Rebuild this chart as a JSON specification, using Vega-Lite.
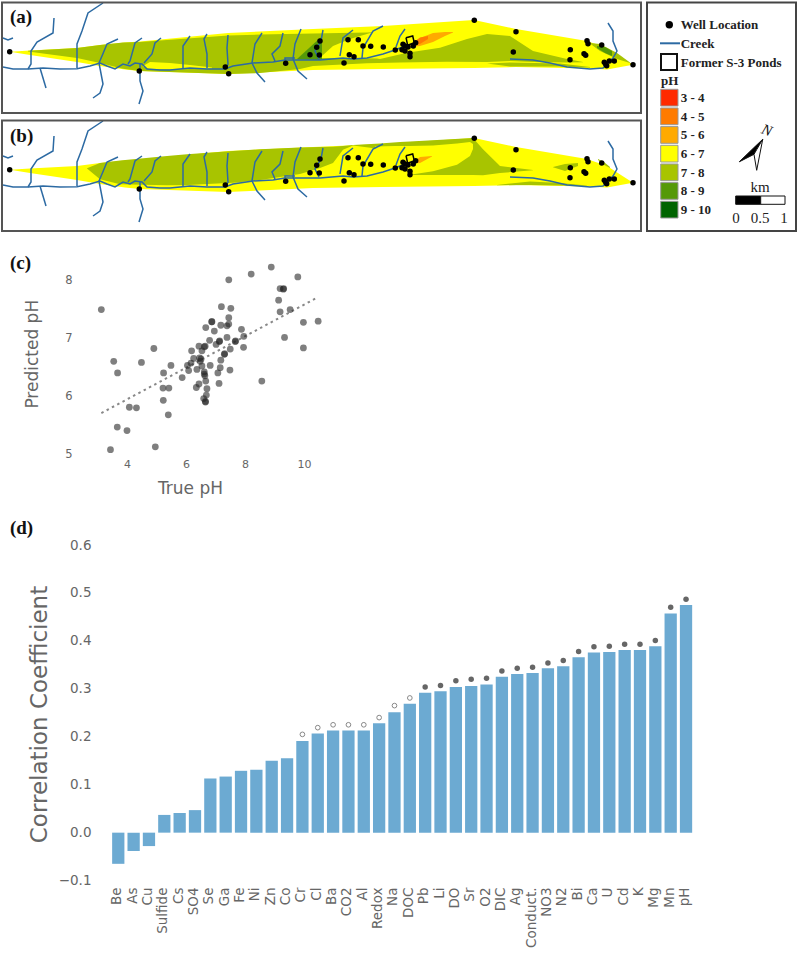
{
"$schema":"https://vega.github.io/schema/vega-lite/v6.json",
"width":800,"height":953,"padding":0,
"autosize":{"type":"fit","contains":"padding"},
"background":"white",
"config":{"view":{"stroke":null},"axis":{"grid":false,"domain":false,"ticks":false,"tickSize":0,"labelFont":"DejaVu Sans","titleFont":"DejaVu Sans","labelColor":"#666","titleColor":"#666","titleFontWeight":"normal"}},
"datasets":{
"contour":[
{"p":"ab","id":"O","ph":"6 - 7","x":10,"y":50.7,"y1":50.8},{"p":"ab","id":"O","ph":"6 - 7","x":30,"y":49.5,"y1":54},{"p":"ab","id":"O","ph":"6 - 7","x":77,"y":47,"y1":61},{"p":"ab","id":"O","ph":"6 - 7","x":100,"y":44,"y1":65},{"p":"ab","id":"O","ph":"6 - 7","x":125,"y":41.5,"y1":68.5},{"p":"ab","id":"O","ph":"6 - 7","x":140,"y":40.5,"y1":70},{"p":"ab","id":"O","ph":"6 - 7","x":228,"y":32,"y1":73},{"p":"ab","id":"O","ph":"6 - 7","x":313,"y":28,"y1":69},{"p":"ab","id":"O","ph":"6 - 7","x":383,"y":25,"y1":68},{"p":"ab","id":"O","ph":"6 - 7","x":474,"y":19,"y1":67},{"p":"ab","id":"O","ph":"6 - 7","x":516,"y":28,"y1":66},{"p":"ab","id":"O","ph":"6 - 7","x":587,"y":40,"y1":67.5},{"p":"ab","id":"O","ph":"6 - 7","x":607,"y":47,"y1":68.5},{"p":"ab","id":"O","ph":"6 - 7","x":633,"y":63.7,"y1":63.8},
{"p":"a","id":"G1","ph":"7 - 8","x":28,"y":49.7,"y1":50.5},{"p":"a","id":"G1","ph":"7 - 8","x":77,"y":47,"y1":57},{"p":"a","id":"G1","ph":"7 - 8","x":100,"y":44,"y1":62},{"p":"a","id":"G1","ph":"7 - 8","x":123,"y":41.6,"y1":67.7},{"p":"a","id":"G1","ph":"7 - 8","x":140,"y":41,"y1":70},{"p":"a","id":"G1","ph":"7 - 8","x":228,"y":34.5,"y1":73},{"p":"a","id":"G1","ph":"7 - 8","x":260,"y":33.5,"y1":72},{"p":"a","id":"G1","ph":"7 - 8","x":300,"y":32.7,"y1":68},{"p":"a","id":"G1","ph":"7 - 8","x":313,"y":32.5,"y1":65},{"p":"a","id":"G1","ph":"7 - 8","x":367,"y":31.5,"y1":62.3},{"p":"a","id":"G1","ph":"7 - 8","x":400,"y":30,"y1":61.5},{"p":"a","id":"G1","ph":"7 - 8","x":447,"y":29,"y1":60.7},{"p":"a","id":"G1","ph":"7 - 8","x":487,"y":33,"y1":61},{"p":"a","id":"G1","ph":"7 - 8","x":510,"y":35,"y1":60},{"p":"a","id":"G1","ph":"7 - 8","x":533,"y":50,"y1":61},{"p":"a","id":"G1","ph":"7 - 8","x":567,"y":58,"y1":61.5},{"p":"a","id":"G1","ph":"7 - 8","x":583,"y":61,"y1":61.2},
{"p":"a","id":"Y1","ph":"6 - 7","x":143,"y":65,"y1":65.5},{"p":"a","id":"Y1","ph":"6 - 7","x":150,"y":61,"y1":68},{"p":"a","id":"Y1","ph":"6 - 7","x":170,"y":62,"y1":68.5},{"p":"a","id":"Y1","ph":"6 - 7","x":190,"y":64,"y1":68},{"p":"a","id":"Y1","ph":"6 - 7","x":212,"y":66.5,"y1":67.5},
{"p":"a","id":"Y2","ph":"6 - 7","x":320,"y":56.7,"y1":57},{"p":"a","id":"Y2","ph":"6 - 7","x":333,"y":45,"y1":57},{"p":"a","id":"Y2","ph":"6 - 7","x":350,"y":38,"y1":57},{"p":"a","id":"Y2","ph":"6 - 7","x":377,"y":30,"y1":57.5},{"p":"a","id":"Y2","ph":"6 - 7","x":380,"y":30,"y1":58},{"p":"a","id":"Y2","ph":"6 - 7","x":407,"y":27,"y1":51.7},{"p":"a","id":"Y2","ph":"6 - 7","x":440,"y":24,"y1":46.7},{"p":"a","id":"Y2","ph":"6 - 7","x":467,"y":22,"y1":38},{"p":"a","id":"Y2","ph":"6 - 7","x":487,"y":22,"y1":33},
{"p":"a","id":"G3","ph":"7 - 8","x":487,"y":62.5,"y1":62.6},{"p":"a","id":"G3","ph":"7 - 8","x":510,"y":61.5,"y1":65.5},{"p":"a","id":"G3","ph":"7 - 8","x":560,"y":62.5,"y1":65.5},{"p":"a","id":"G3","ph":"7 - 8","x":590,"y":66,"y1":66.5},
{"p":"a","id":"D1","ph":"8 - 9","x":297,"y":58,"y1":58.2},{"p":"a","id":"D1","ph":"8 - 9","x":320,"y":37,"y1":59},{"p":"a","id":"D1","ph":"8 - 9","x":322,"y":36,"y1":58},
{"p":"a","id":"E1","ph":"7 - 8","x":590,"y":42,"y1":42.5},{"p":"a","id":"E1","ph":"7 - 8","x":600,"y":43,"y1":50},{"p":"a","id":"E1","ph":"7 - 8","x":617,"y":52,"y1":58},{"p":"a","id":"E1","ph":"7 - 8","x":630,"y":61.5,"y1":62},
{"p":"a","id":"E2","ph":"8 - 9","x":597,"y":45,"y1":47},{"p":"a","id":"E2","ph":"8 - 9","x":605,"y":46,"y1":52},{"p":"a","id":"E2","ph":"8 - 9","x":612,"y":50,"y1":55},
{"p":"a","id":"R1","ph":"5 - 6","x":405,"y":46,"y1":46.5},{"p":"a","id":"R1","ph":"5 - 6","x":420,"y":37,"y1":45},{"p":"a","id":"R1","ph":"5 - 6","x":433,"y":32,"y1":41},{"p":"a","id":"R1","ph":"5 - 6","x":445,"y":31,"y1":35},{"p":"a","id":"R1","ph":"5 - 6","x":453,"y":31,"y1":31.5},
{"p":"a","id":"R2","ph":"4 - 5","x":412,"y":43,"y1":43.5},{"p":"a","id":"R2","ph":"4 - 5","x":420,"y":36.5,"y1":43},{"p":"a","id":"R2","ph":"4 - 5","x":428,"y":35,"y1":38},
{"p":"b","id":"B1","ph":"7 - 8","x":87,"y":49.3,"y1":49.5},{"p":"b","id":"B1","ph":"7 - 8","x":100,"y":44,"y1":60.3},{"p":"b","id":"B1","ph":"7 - 8","x":120,"y":41.5,"y1":65.3},{"p":"b","id":"B1","ph":"7 - 8","x":167,"y":37,"y1":66.3},{"p":"b","id":"B1","ph":"7 - 8","x":187,"y":35.3,"y1":66},{"p":"b","id":"B1","ph":"7 - 8","x":233,"y":32,"y1":63.7},{"p":"b","id":"B1","ph":"7 - 8","x":260,"y":30.3,"y1":61},{"p":"b","id":"B1","ph":"7 - 8","x":300,"y":28.5,"y1":55},{"p":"b","id":"B1","ph":"7 - 8","x":320,"y":28,"y1":49},{"p":"b","id":"B1","ph":"7 - 8","x":333,"y":27.7,"y1":44},{"p":"b","id":"B1","ph":"7 - 8","x":343,"y":27,"y1":30.7},{"p":"b","id":"B1","ph":"7 - 8","x":353,"y":26,"y1":26.5},
{"p":"b","id":"B2","ph":"7 - 8","x":353,"y":26,"y1":26.5},{"p":"b","id":"B2","ph":"7 - 8","x":380,"y":24.5,"y1":30},{"p":"b","id":"B2","ph":"7 - 8","x":400,"y":23,"y1":44},{"p":"b","id":"B2","ph":"7 - 8","x":410,"y":22.4,"y1":56},{"p":"b","id":"B2","ph":"7 - 8","x":473,"y":18.9,"y1":56},{"p":"b","id":"B2","ph":"7 - 8","x":483,"y":30.3,"y1":56.3},{"p":"b","id":"B2","ph":"7 - 8","x":500,"y":47,"y1":54},{"p":"b","id":"B2","ph":"7 - 8","x":533,"y":51,"y1":51.2},
{"p":"b","id":"B3","ph":"6 - 7","x":375,"y":27.5,"y1":28.5},{"p":"b","id":"B3","ph":"6 - 7","x":395,"y":27,"y1":46},{"p":"b","id":"B3","ph":"6 - 7","x":410,"y":27,"y1":55.7},{"p":"b","id":"B3","ph":"6 - 7","x":433,"y":26.5,"y1":52.3},{"p":"b","id":"B3","ph":"6 - 7","x":457,"y":24.5,"y1":45.7},{"p":"b","id":"B3","ph":"6 - 7","x":470,"y":23,"y1":37},{"p":"b","id":"B3","ph":"6 - 7","x":473,"y":25,"y1":30},
{"p":"b","id":"B4","ph":"5 - 6","x":412,"y":44,"y1":44.5},{"p":"b","id":"B4","ph":"5 - 6","x":420,"y":38,"y1":44},{"p":"b","id":"B4","ph":"5 - 6","x":432,"y":37,"y1":37.5},
{"p":"b","id":"B5","ph":"7 - 8","x":553,"y":48,"y1":48.3},{"p":"b","id":"B5","ph":"7 - 8","x":565,"y":45,"y1":52},{"p":"b","id":"B5","ph":"7 - 8","x":578,"y":44,"y1":47},
{"p":"b","id":"B6","ph":"7 - 8","x":497,"y":66,"y1":66.2},{"p":"b","id":"B6","ph":"7 - 8","x":530,"y":62.5,"y1":66},{"p":"b","id":"B6","ph":"7 - 8","x":560,"y":64,"y1":66.5},{"p":"b","id":"B6","ph":"7 - 8","x":587,"y":66.5,"y1":66.7},
{"p":"b","id":"B7","ph":"7 - 8","x":598,"y":40,"y1":41},{"p":"b","id":"B7","ph":"7 - 8","x":604,"y":43,"y1":46},{"p":"b","id":"B7","ph":"7 - 8","x":610,"y":48,"y1":49}
],
"creek":[
{"c":"m","x":3,"y":66},{"c":"m","x":13,"y":68},{"c":"m","x":28,"y":68},{"c":"m","x":43,"y":67},{"c":"m","x":60,"y":68},{"c":"m","x":77,"y":67.7},{"c":"m","x":90,"y":65},{"c":"m","x":100,"y":62},{"c":"m","x":107,"y":65},{"c":"m","x":115,"y":68},{"c":"m","x":123,"y":63},{"c":"m","x":130,"y":65},{"c":"m","x":135,"y":62},{"c":"m","x":142,"y":63},{"c":"m","x":147,"y":68},{"c":"m","x":160,"y":69},{"c":"m","x":170,"y":69},{"c":"m","x":180,"y":68},{"c":"m","x":190,"y":67},{"c":"m","x":207,"y":68},{"c":"m","x":225,"y":68},{"c":"m","x":233,"y":65},{"c":"m","x":253,"y":62},{"c":"m","x":273,"y":61},{"c":"m","x":285,"y":59},{"c":"m","x":300,"y":59},{"c":"m","x":320,"y":59},{"c":"m","x":343,"y":57},{"c":"m","x":353,"y":58},{"c":"m","x":367,"y":57},{"c":"m","x":383,"y":53},{"c":"m","x":395,"y":49},{"c":"m","x":405,"y":45},
{"c":"t1","x":3,"y":37},{"c":"t1","x":8,"y":39},{"c":"t1","x":13,"y":37},
{"c":"t2","x":54,"y":17},{"c":"t2","x":53,"y":32},{"c":"t2","x":37,"y":41},{"c":"t2","x":31,"y":50},{"c":"t2","x":31,"y":63},{"c":"t2","x":28,"y":68},
{"c":"t3","x":103,"y":2},{"c":"t3","x":88,"y":12},{"c":"t3","x":82,"y":30},{"c":"t3","x":77,"y":43},{"c":"t3","x":77,"y":67},
{"c":"t4","x":40,"y":67},{"c":"t4","x":43,"y":77},{"c":"t4","x":46,"y":87},
{"c":"t5","x":118,"y":38},{"c":"t5","x":107,"y":43},{"c":"t5","x":102,"y":55},{"c":"t5","x":99,"y":62},{"c":"t5","x":103,"y":83},{"c":"t5","x":100,"y":92},{"c":"t5","x":93,"y":97},
{"c":"t6","x":142,"y":37},{"c":"t6","x":135,"y":42},{"c":"t6","x":130,"y":60},{"c":"t6","x":128,"y":63},
{"c":"t7","x":161,"y":37},{"c":"t7","x":155,"y":42},{"c":"t7","x":152,"y":53},{"c":"t7","x":144,"y":62},
{"c":"t8","x":140,"y":63},{"c":"t8","x":140,"y":80},{"c":"t8","x":143,"y":90},{"c":"t8","x":139,"y":103},
{"c":"t9","x":190,"y":35},{"c":"t9","x":183,"y":45},{"c":"t9","x":183,"y":68},
{"c":"t10","x":207,"y":33},{"c":"t10","x":204,"y":38},{"c":"t10","x":207,"y":53},{"c":"t10","x":207,"y":67},
{"c":"t11","x":228,"y":34},{"c":"t11","x":227,"y":47},{"c":"t11","x":228,"y":63},{"c":"t11","x":226,"y":67},
{"c":"t12","x":262,"y":32},{"c":"t12","x":255,"y":43},{"c":"t12","x":252,"y":62},{"c":"t12","x":257,"y":72},{"c":"t12","x":265,"y":81},
{"c":"t13","x":283,"y":32},{"c":"t13","x":280,"y":45},{"c":"t13","x":272,"y":53},{"c":"t13","x":275,"y":60},
{"c":"t14","x":301,"y":28},{"c":"t14","x":295,"y":43},{"c":"t14","x":293,"y":58},{"c":"t14","x":298,"y":70},{"c":"t14","x":307,"y":78},
{"c":"t15","x":323,"y":29},{"c":"t15","x":321,"y":40},{"c":"t15","x":315,"y":50},{"c":"t15","x":319,"y":58},
{"c":"t16","x":285,"y":59},{"c":"t16","x":285,"y":57},{"c":"t16","x":295,"y":57},
{"c":"t17","x":353,"y":29},{"c":"t17","x":343,"y":37},{"c":"t17","x":340,"y":55},
{"c":"t18","x":383,"y":25},{"c":"t18","x":373,"y":30},{"c":"t18","x":363,"y":47},{"c":"t18","x":362,"y":57},
{"c":"t19","x":405,"y":28},{"c":"t19","x":400,"y":35},{"c":"t19","x":396,"y":46},
{"c":"e","x":510,"y":58},{"c":"e","x":533,"y":59},{"c":"e","x":550,"y":62},{"c":"e","x":567,"y":66},{"c":"e","x":590,"y":68},{"c":"e","x":603,"y":67},{"c":"e","x":613,"y":57},{"c":"e","x":617,"y":50},{"c":"e","x":613,"y":40},{"c":"e","x":613,"y":30},{"c":"e","x":608,"y":22}
],
"wells":[
{"x":9.7,"y":50.7},{"x":139.3,"y":70},{"x":225.3,"y":66},{"x":228.7,"y":72.7},{"x":285.7,"y":62.3},{"x":320,"y":40},{"x":316.7,"y":46.3},{"x":310,"y":53.7},{"x":319.3,"y":54},{"x":344,"y":62},{"x":348,"y":38.7},{"x":358.3,"y":38.7},{"x":349.3,"y":53.7},{"x":354,"y":55.7},{"x":363,"y":45},{"x":370.7,"y":45.3},{"x":383.3,"y":46},{"x":395.3,"y":49},{"x":474.3,"y":19.3},{"x":516,"y":30.7},{"x":513.3,"y":51},{"x":570.3,"y":48.7},{"x":570,"y":58.7},{"x":587,"y":39.7},{"x":588,"y":42.7},{"x":584,"y":52.7},{"x":585.7,"y":54.3},{"x":601.7,"y":44},{"x":633,"y":63.7},{"x":614.3,"y":60},{"x":609.3,"y":60},{"x":604.3,"y":61.3},{"x":606.7,"y":64.7},{"x":605.7,"y":63.3},{"x":403,"y":43.3},{"x":405,"y":45},{"x":408,"y":46},{"x":405,"y":50},{"x":402,"y":48.7},{"x":413.3,"y":45},{"x":415.7,"y":41.7},{"x":410,"y":52.3},{"x":410,"y":55.7}
],
"pond":[{"x":406,"y":36.7},{"x":412.7,"y":35},{"x":414.3,"y":41.7},{"x":407.7,"y":44.3},{"x":406,"y":36.7}],
"frame":[{"x":2,"x1":641,"y":1.5,"y1":112}],
"scatter":[
{"x":3.13,"y":7.5},{"x":3.55,"y":6.61},{"x":3.68,"y":6.41},{"x":4.08,"y":5.82},{"x":4.32,"y":5.81},{"x":3.67,"y":5.48},{"x":4.0,"y":5.42},{"x":3.44,"y":5.09},{"x":4.96,"y":5.14},{"x":4.49,"y":6.59},{"x":4.91,"y":6.83},{"x":5.24,"y":6.41},{"x":5.49,"y":6.54},{"x":5.22,"y":6.15},{"x":5.42,"y":6.15},{"x":5.23,"y":5.94},{"x":5.4,"y":5.69},{"x":5.87,"y":6.33},{"x":6.05,"y":6.54},{"x":6.09,"y":6.45},{"x":6.17,"y":6.58},{"x":6.19,"y":6.79},{"x":6.26,"y":6.66},{"x":6.44,"y":6.87},{"x":6.37,"y":6.47},{"x":6.35,"y":6.16},{"x":6.44,"y":6.22},{"x":6.46,"y":6.67},{"x":6.51,"y":6.65},{"x":6.48,"y":6.61},{"x":6.54,"y":6.53},{"x":6.62,"y":6.86},{"x":6.65,"y":6.87},{"x":6.67,"y":7.19},{"x":6.54,"y":6.79},{"x":6.62,"y":6.43},{"x":6.62,"y":6.39},{"x":6.64,"y":6.36},{"x":6.67,"y":6.27},{"x":6.71,"y":6.14},{"x":6.69,"y":6.03},{"x":6.6,"y":5.97},{"x":6.66,"y":5.91},{"x":6.66,"y":5.92},{"x":6.82,"y":6.54},{"x":6.8,"y":6.97},{"x":6.87,"y":7.29},{"x":6.88,"y":7.29},{"x":6.96,"y":7.13},{"x":7.02,"y":6.9},{"x":7.13,"y":6.95},{"x":7.14,"y":6.96},{"x":7.08,"y":6.41},{"x":7.12,"y":6.23},{"x":7.16,"y":6.5},{"x":7.18,"y":6.63},{"x":7.3,"y":6.73},{"x":7.31,"y":6.74},{"x":7.18,"y":7.23},{"x":7.2,"y":7.55},{"x":7.39,"y":7.22},{"x":7.45,"y":7.25},{"x":7.45,"y":7.36},{"x":7.52,"y":7.52},{"x":7.45,"y":8.01},{"x":7.39,"y":7.02},{"x":7.5,"y":6.82},{"x":7.49,"y":6.46},{"x":7.67,"y":6.95},{"x":7.68,"y":6.96},{"x":7.88,"y":7.16},{"x":7.96,"y":7.04},{"x":7.95,"y":6.85},{"x":8.21,"y":8.11},{"x":8.57,"y":6.27},{"x":8.89,"y":8.23},{"x":9.19,"y":7.86},{"x":9.3,"y":7.85},{"x":9.31,"y":7.86},{"x":9.14,"y":7.66},{"x":9.19,"y":7.46},{"x":9.53,"y":7.5},{"x":9.34,"y":7.02},{"x":9.79,"y":8.06},{"x":9.98,"y":7.28},{"x":9.98,"y":6.84},{"x":10.48,"y":7.3}
],
"fit":[{"x":3.13,"y":5.72},{"x":10.43,"y":7.7}],
"bars":[
{"el":"Be","v":-0.065},{"el":"As","v":-0.038},{"el":"Cu","v":-0.028},{"el":"Sulfide","v":0.037},{"el":"Cs","v":0.041},{"el":"SO4","v":0.047},{"el":"Se","v":0.113},{"el":"Ga","v":0.117},{"el":"Fe","v":0.129},{"el":"Ni","v":0.131},{"el":"Zn","v":0.15},{"el":"Co","v":0.155},{"el":"Cr","v":0.191},{"el":"Cl","v":0.207},{"el":"Ba","v":0.213},{"el":"CO2","v":0.213},{"el":"Al","v":0.213},{"el":"Redox","v":0.228},{"el":"Na","v":0.251},{"el":"DOC","v":0.269},{"el":"Pb","v":0.292},{"el":"Li","v":0.295},{"el":"DO","v":0.304},{"el":"Sr","v":0.306},{"el":"O2","v":0.309},{"el":"DIC","v":0.325},{"el":"Ag","v":0.331},{"el":"Conduct.","v":0.333},{"el":"NO3","v":0.343},{"el":"N2","v":0.347},{"el":"Bi","v":0.366},{"el":"Ca","v":0.376},{"el":"U","v":0.377},{"el":"Cd","v":0.381},{"el":"K","v":0.381},{"el":"Mg","v":0.389},{"el":"Mn","v":0.457},{"el":"pH","v":0.475}
],
"sig":[
{"el":"Cr","v":0.205,"k":"open"},{"el":"Cl","v":0.219,"k":"open"},{"el":"Ba","v":0.225,"k":"open"},{"el":"CO2","v":0.225,"k":"open"},{"el":"Al","v":0.225,"k":"open"},{"el":"Redox","v":0.24,"k":"open"},{"el":"Na","v":0.265,"k":"open"},{"el":"DOC","v":0.281,"k":"open"},{"el":"Pb","v":0.304,"k":"solid"},{"el":"Li","v":0.307,"k":"solid"},{"el":"DO","v":0.317,"k":"solid"},{"el":"Sr","v":0.32,"k":"solid"},{"el":"O2","v":0.322,"k":"solid"},{"el":"DIC","v":0.337,"k":"solid"},{"el":"Ag","v":0.343,"k":"solid"},{"el":"Conduct.","v":0.345,"k":"solid"},{"el":"NO3","v":0.354,"k":"solid"},{"el":"N2","v":0.359,"k":"solid"},{"el":"Bi","v":0.378,"k":"solid"},{"el":"Ca","v":0.388,"k":"solid"},{"el":"U","v":0.389,"k":"solid"},{"el":"Cd","v":0.393,"k":"solid"},{"el":"K","v":0.393,"k":"solid"},{"el":"Mg","v":0.401,"k":"solid"},{"el":"Mn","v":0.47,"k":"solid"},{"el":"pH","v":0.487,"k":"solid"}
],
"swatch":[{"ph":"3 - 4","x":660.7,"x1":678,"y":88.3,"y1":105},{"ph":"4 - 5","x":660.7,"x1":678,"y":107,"y1":123.7},{"ph":"5 - 6","x":660.7,"x1":678,"y":125.6,"y1":142.3},{"ph":"6 - 7","x":660.7,"x1":678,"y":144.3,"y1":161},{"ph":"7 - 8","x":660.7,"x1":678,"y":163,"y1":179.7},{"ph":"8 - 9","x":660.7,"x1":678,"y":181.6,"y1":198.3},{"ph":"9 - 10","x":660.7,"x1":678,"y":200.3,"y1":217}],
"legendBold":[{"t":"Well Location","x":680.7,"y":24},{"t":"Creek","x":680.7,"y":43},{"t":"Former S-3 Ponds","x":680.7,"y":61.5},{"t":"pH","x":661,"y":80},{"t":"3 - 4","x":680.7,"y":97},{"t":"4 - 5","x":680.7,"y":115.7},{"t":"5 - 6","x":680.7,"y":134.3},{"t":"6 - 7","x":680.7,"y":153},{"t":"7 - 8","x":680.7,"y":171.7},{"t":"8 - 9","x":680.7,"y":190.3},{"t":"9 - 10","x":680.7,"y":209}],
"scaleText":[{"t":"km","x":760,"y":186},{"t":"0","x":736,"y":217},{"t":"0.5","x":760,"y":217},{"t":"1","x":784,"y":217}],
"shade":[{"s":"dark","x":735.7,"x1":760.7,"y":195,"y1":203.3},{"s":"light","x":760.7,"x1":785,"y":195,"y1":203.3}],
"north":[{"s":"dark","x":739.3,"y":160.7,"y1":160.8},{"s":"dark","x":754,"y":146.6,"y1":153.3},{"s":"dark","x":762.7,"y":138.3,"y1":138.4},{"s":"light","x":754,"y":153.3,"y1":153.4},{"s":"light","x":756.7,"y":148.6,"y1":169.3},{"s":"light","x":762.7,"y":138.3,"y1":138.4}]
},
"resolve":{"scale":{"x":"independent","y":"independent"},"axis":{"x":"independent","y":"independent"}},
"layer":[
{"encoding":{"x":{"field":"x","type":"quantitative","axis":null,"scale":{"domain":[0,640],"range":[0,640]}},"y":{"field":"y","type":"quantitative","axis":null,"scale":{"domain":[0,113],"range":[0,113]}}},
"layer":[
{"data":{"name":"contour"},"transform":[{"filter":"datum.p=='ab'||datum.p=='a'"}],"mark":{"type":"area","strokeWidth":0},"encoding":{"y2":{"field":"y1"},"color":{"field":"ph","type":"nominal","legend":null,"scale":{"domain":["3 - 4","4 - 5","5 - 6","6 - 7","7 - 8","8 - 9","9 - 10"],"range":["#FF2A00","#FF7B00","#FFAA00","#FFFF00","#A8C400","#559908","#006400"]}},"detail":{"field":"id"}}},
{"data":{"name":"creek"},"mark":{"type":"line","stroke":"#2C6AA3","strokeWidth":1.5},"encoding":{"detail":{"field":"c"},"order":{"value":null}}},
{"data":{"name":"pond"},"mark":{"type":"line","stroke":"black","strokeWidth":1.5},"encoding":{"order":{"value":null}}},
{"data":{"name":"wells"},"mark":{"type":"circle","color":"black","opacity":1,"size":30}},
{"data":{"name":"frame"},"mark":{"type":"rect","fill":"transparent","stroke":"#555","strokeWidth":2},"encoding":{"x2":{"field":"x1"},"y2":{"field":"y1"}}},
{"data":{"values":[{"t":"(a)","x":10,"y":16}]},"mark":{"type":"text","align":"left","baseline":"middle","font":"Liberation Serif","fontWeight":"bold","fontSize":19,"color":"#111"},"encoding":{"text":{"field":"t"}}}
]},
{"encoding":{"x":{"field":"x","type":"quantitative","axis":null,"scale":{"domain":[0,640],"range":[0,640]}},"y":{"field":"y","type":"quantitative","axis":null,"scale":{"domain":[0,113],"range":[118,231]}}},
"layer":[
{"data":{"name":"contour"},"transform":[{"filter":"datum.p=='ab'||datum.p=='b'"}],"mark":{"type":"area","strokeWidth":0},"encoding":{"y2":{"field":"y1"},"color":{"field":"ph","type":"nominal","legend":null,"scale":{"domain":["3 - 4","4 - 5","5 - 6","6 - 7","7 - 8","8 - 9","9 - 10"],"range":["#FF2A00","#FF7B00","#FFAA00","#FFFF00","#A8C400","#559908","#006400"]}},"detail":{"field":"id"}}},
{"data":{"name":"creek"},"mark":{"type":"line","stroke":"#2C6AA3","strokeWidth":1.5},"encoding":{"detail":{"field":"c"},"order":{"value":null}}},
{"data":{"name":"pond"},"mark":{"type":"line","stroke":"black","strokeWidth":1.5},"encoding":{"order":{"value":null}}},
{"data":{"name":"wells"},"mark":{"type":"circle","color":"black","opacity":1,"size":30}},
{"data":{"name":"frame"},"mark":{"type":"rect","fill":"transparent","stroke":"#555","strokeWidth":2},"encoding":{"x2":{"field":"x1"},"y2":{"field":"y1"}}},
{"data":{"values":[{"t":"(b)","x":10,"y":17}]},"mark":{"type":"text","align":"left","baseline":"middle","font":"Liberation Serif","fontWeight":"bold","fontSize":19,"color":"#111"},"encoding":{"text":{"field":"t"}}}
]},
{"encoding":{"x":{"field":"x","type":"quantitative","axis":null,"scale":{"domain":[640,800],"range":[640,800]}},"y":{"field":"y","type":"quantitative","axis":null,"scale":{"domain":[0,240],"range":[0,240]}}},
"layer":[
{"data":{"values":[{"x":647,"x1":796,"y":1.5,"y1":230}]},"mark":{"type":"rect","fill":"transparent","stroke":"#444","strokeWidth":2},"encoding":{"x2":{"field":"x1"},"y2":{"field":"y1"}}},
{"data":{"values":[{"x":669.3,"y":23.7}]},"mark":{"type":"circle","color":"black","opacity":1,"size":55}},
{"data":{"values":[{"x":660,"y":42.3},{"x":680,"y":42.3}]},"mark":{"type":"line","stroke":"#2C6AA3","strokeWidth":2}},
{"data":{"values":[{"x":661,"x1":677,"y":53,"y1":69}]},"mark":{"type":"rect","fill":"white","stroke":"#111","strokeWidth":2},"encoding":{"x2":{"field":"x1"},"y2":{"field":"y1"}}},
{"data":{"name":"swatch"},"mark":{"type":"rect","stroke":"#999","strokeWidth":1},"encoding":{"x2":{"field":"x1"},"y2":{"field":"y1"},"color":{"field":"ph","type":"nominal","legend":null,"scale":{"domain":["3 - 4","4 - 5","5 - 6","6 - 7","7 - 8","8 - 9","9 - 10"],"range":["#FF2A00","#FF7B00","#FFAA00","#FFFF00","#A8C400","#559908","#006400"]}}}},
{"data":{"name":"legendBold"},"mark":{"type":"text","align":"left","baseline":"middle","font":"Liberation Serif","fontWeight":"bold","fontSize":13,"color":"#222"},"encoding":{"text":{"field":"t"}}},
{"data":{"name":"scaleText"},"mark":{"type":"text","align":"center","baseline":"middle","font":"Liberation Serif","fontSize":15,"color":"#222"},"encoding":{"text":{"field":"t"}}},
{"data":{"name":"shade"},"mark":{"type":"rect","stroke":"#111","strokeWidth":1},"encoding":{"x2":{"field":"x1"},"y2":{"field":"y1"},"fill":{"field":"s","type":"nominal","legend":null,"scale":{"domain":["dark","light"],"range":["#000","#fff"]}}}},
{"data":{"name":"north"},"mark":{"type":"area","stroke":"#111","strokeWidth":1},"encoding":{"y2":{"field":"y1"},"fill":{"field":"s","type":"nominal","legend":null,"scale":{"domain":["dark","light"],"range":["#000","#fff"]}}}},
{"data":{"values":[{"t":"N","x":767,"y":129}]},"mark":{"type":"text","align":"center","baseline":"middle","font":"Liberation Serif","fontStyle":"italic","fontSize":15,"angle":20,"color":"#111"},"encoding":{"text":{"field":"t"}}}
]},
{"encoding":{"x":{"field":"x","type":"quantitative","scale":{"domain":[3,10.6],"range":[97.5,321.7]},"axis":{"orient":"bottom","values":[4,6,8,10],"title":"True pH","offset":-498,"labelPadding":3,"labelFontSize":11,"titleFontSize":17,"titleX":190,"titleY":33,"titleBaseline":"middle","labelFlush":false}},"y":{"field":"y","type":"quantitative","scale":{"domain":[4.8,8.3],"range":[465.6,262]},"axis":{"orient":"left","values":[5,6,7,8],"title":"Predicted pH","offset":-75,"labelPadding":3,"labelFontSize":11.5,"titleFontSize":17,"titleX":-43,"titleY":352.7,"titleBaseline":"middle","labelFlush":false}}},
"layer":[
{"data":{"name":"fit"},"mark":{"type":"line","stroke":"#888","strokeWidth":2,"strokeDash":[2.5,3.5]}},
{"data":{"name":"scatter"},"mark":{"type":"circle","color":"#222","opacity":0.58,"size":46}},
{"data":{"values":[{"t":"(c)","x":0.03,"y":8.3},{"t":"(d)","x":0.03,"y":3.75}]},"mark":{"type":"text","align":"left","baseline":"middle","font":"Liberation Serif","fontWeight":"bold","fontSize":19,"color":"#111"},"encoding":{"text":{"field":"t"}}}
]},
{"encoding":{"x":{"field":"el","type":"nominal","scale":{"domain":["Be","As","Cu","Sulfide","Cs","SO4","Se","Ga","Fe","Ni","Zn","Co","Cr","Cl","Ba","CO2","Al","Redox","Na","DOC","Pb","Li","DO","Sr","O2","DIC","Ag","Conduct.","NO3","N2","Bi","Ca","U","Cd","K","Mg","Mn","pH"],"range":[110.6,693.7],"paddingInner":0.2,"paddingOuter":0.1},"axis":{"orient":"bottom","title":null,"labelAngle":-90,"labelAlign":"right","labelBaseline":"middle","offset":-69,"labelPadding":3,"labelFontSize":13.5,"labelOverlap":false,"labelOffset":-1}},"y":{"field":"v","type":"quantitative","scale":{"domain":[-0.1,0.6],"range":[879.6,544]},"axis":{"orient":"left","title":"Correlation Coefficient","values":[-0.1,0,0.1,0.2,0.3,0.4,0.5,0.6],"format":".1f","offset":-94,"labelPadding":3,"labelFontSize":13.5,"titleFontSize":23,"titleX":-55,"titleY":713,"titleBaseline":"middle","labelFlush":false}}},
"layer":[
{"data":{"name":"bars"},"mark":{"type":"bar","color":"#6CAAD2"}},
{"data":{"name":"sig"},"transform":[{"filter":"datum.k=='open'"}],"mark":{"type":"point","filled":false,"stroke":"#888","strokeWidth":1,"size":22,"opacity":1}},
{"data":{"name":"sig"},"transform":[{"filter":"datum.k=='solid'"}],"mark":{"type":"circle","color":"#666","opacity":1,"size":30}}
]}
]
}
